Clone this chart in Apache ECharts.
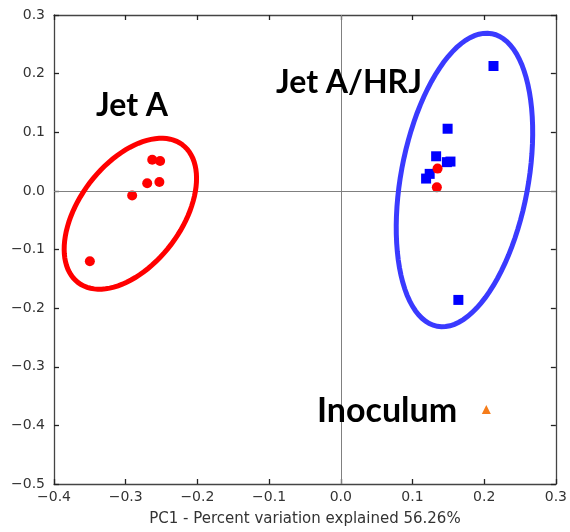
<!DOCTYPE html>
<html>
<head>
<meta charset="utf-8">
<script src="https://cdn.jsdelivr.net/npm/echarts@6/dist/echarts.min.js"></script>
<style>html,body{margin:0;padding:0;background:#fff;}#c{width:570px;height:532px;}</style>
</head>
<body>
<div id="c"></div>
<script>
// ---- data ----
const xTicks = [-0.4, -0.3, -0.2, -0.1, 0.0, 0.1, 0.2, 0.3];
const yTicks = [-0.5, -0.4, -0.3, -0.2, -0.1, 0.0, 0.1, 0.2, 0.3];
const xAxisName = 'PC1 - Percent variation explained 56.26%';
const jetAPoints = [[-0.350, -0.120], [-0.291, -0.008], [-0.270, 0.013], [-0.253, 0.015], [-0.263, 0.053], [-0.252, 0.051]];
const jetARedInHRJ = [[0.135, 0.038], [0.134, 0.006]];
const hrjSquares = [[0.213, 0.213], [0.149, 0.106], [0.133, 0.059], [0.148, 0.049], [0.153, 0.050], [0.124, 0.029], [0.119, 0.021], [0.164, -0.186]];
const inoculumPoints = [[0.203, -0.373]];
// ellipse annotations: centre, half-axis U, half-axis V (data units)
const redEllipse = [-0.2935, -0.039, 0.0727, 0.1176, 0.0569, -0.0523];
const blueEllipse = [0.1725, 0.0186, 0.0379, 0.2496, 0.0873, -0.0198];
const groupLabels = ['Jet A', 'Jet A/HRJ', 'Inoculum'];

const fmt = v => Number(v).toFixed(1).replace('-', '\u2212');
const axisTxt = { color: '#333', fontFamily: 'DejaVu Sans', fontSize: 14 };

function ellipseItem(color) {
  return function (params, api) {
    const cx = api.value(0), cy = api.value(1);
    const ux = api.value(2), uy = api.value(3), vx = api.value(4), vy = api.value(5);
    const pts = [];
    const n = 96;
    for (let i = 0; i < n; i++) {
      const t = 2 * Math.PI * i / n;
      pts.push(api.coord([cx + Math.cos(t) * ux + Math.sin(t) * vx, cy + Math.cos(t) * uy + Math.sin(t) * vy]));
    }
    return { type: 'polygon', shape: { points: pts }, style: { fill: 'none', stroke: color, lineWidth: 5 } };
  };
}

const chart = echarts.init(document.getElementById('c'), null, { renderer: 'canvas' });
const axisLine = { show: true, onZero: false, lineStyle: { color: '#444', width: 1.3 } };
const tick = { show: true, inside: true, length: 5, lineStyle: { color: '#222', width: 1.3 } };
chart.setOption({
  animation: false,
  backgroundColor: '#fff',
  grid: { left: 54, right: 11, top: 15, bottom: 44 },
  xAxis: [
    { type: 'value', min: xTicks[0], max: xTicks[xTicks.length - 1], interval: 0.1,
      position: 'bottom', axisLine, axisTick: tick, splitLine: { show: false },
      axisLabel: Object.assign({ formatter: fmt, margin: 6 }, axisTxt),
      name: xAxisName, nameLocation: 'middle', nameGap: 28,
      nameTextStyle: { color: '#333', fontFamily: 'DejaVu Sans', fontSize: 15 } },
    { type: 'value', min: xTicks[0], max: xTicks[xTicks.length - 1], interval: 0.1,
      position: 'top', axisLine, axisTick: tick, splitLine: { show: false }, axisLabel: { show: false } }
  ],
  yAxis: [
    { type: 'value', min: yTicks[0], max: yTicks[yTicks.length - 1], interval: 0.1,
      position: 'left', axisLine, axisTick: tick, splitLine: { show: false },
      axisLabel: Object.assign({ formatter: fmt, margin: 9 }, axisTxt) },
    { type: 'value', min: yTicks[0], max: yTicks[yTicks.length - 1], interval: 0.1,
      position: 'right', axisLine, axisTick: tick, splitLine: { show: false }, axisLabel: { show: false } }
  ],
  series: [
    { type: 'scatter', data: [], silent: true,
      markLine: { silent: true, symbol: 'none', label: { show: false }, animation: false,
        lineStyle: { color: '#808080', width: 1, type: 'solid' },
        data: [{ xAxis: 0 }, { yAxis: 0 }] } },
    { type: 'scatter', name: 'HRJ', data: hrjSquares, symbol: 'rect', symbolSize: 10,
      itemStyle: { color: '#0000ff', opacity: 1 }, z: 3 },
    { type: 'scatter', name: 'Jet A', data: jetAPoints.concat(jetARedInHRJ), symbol: 'circle', symbolSize: 10,
      itemStyle: { color: '#ff0000', opacity: 1 }, z: 4 },
    { type: 'scatter', name: 'Inoculum', data: inoculumPoints, symbol: 'triangle', symbolSize: 9,
      itemStyle: { color: '#f57c1a', opacity: 1 }, z: 4 },
    { type: 'custom', data: [redEllipse], renderItem: ellipseItem('#ff0000'), z: 5, silent: true },
    { type: 'custom', data: [blueEllipse], renderItem: ellipseItem('#3a3aff'), z: 5, silent: true }
  ],
  graphic: [
    { type: 'text', left: 96, top: 90, z: 10, style: { text: groupLabels[0], font: 'bold 32px Lato', fill: '#000' } },
    { type: 'text', left: 276, top: 67, z: 10, style: { text: groupLabels[1], font: 'bold 32px Lato', fill: '#000' } },
    { type: 'text', left: 317, top: 394, z: 10, style: { text: groupLabels[2], font: 'bold 34px Lato', fill: '#000' } }
  ]
});
</script>
</body>
</html>
